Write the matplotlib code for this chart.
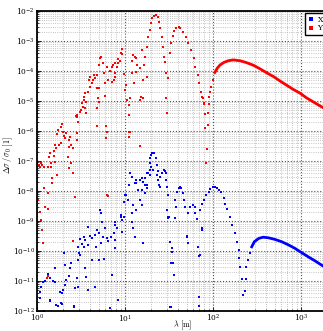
import numpy as np
import matplotlib
matplotlib.use("Agg")
import matplotlib.pyplot as plt
from matplotlib.ticker import LogLocator, NullFormatter

# ---- data (log10 of wavelength [m], log10 of relative change) ----
# Y series (red): scattered part
red_sc_loglam = [0.97,0.95,0.97,0.92,0.73,0.72,0.70,0.75,0.79,0.86,0.89,0.92,0.94,0.91,0.85,0.83,0.89,0.89,0.99,1.08,
                 1.09,1.11,1.13,1.08,1.14,1.22,1.19,0.60,0.59,0.64,0.66,0.65,0.62,0.68,0.76,0.77,0.81,0.85,0.88,0.60,
                 0.58,0.55,0.53,0.53,0.51,0.52,0.56,0.55,0.50,0.49,0.45,0.44,0.46,0.56,0.68,0.70,0.77,0.68,0.70,0.69,
                 1.01,1.00,1.02,1.06,1.04,1.04,1.18,1.20,1.17,0.47,0.28,0.27,0.24,0.23,0.29,0.31,0.33,0.32,0.38,0.36,
                 0.45,0.45,0.27,0.25,0.20,0.22,0.19,0.19,0.15,0.14,0.16,0.20,0.36,0.39,0.41,0.35,0.39,0.68,0.78,0.80,
                 0.78,1.06,1.17,0.00,0.02,0.04,0.06,0.08,0.03,0.16,0.13,0.17,0.17,0.23,0.36,0.41,0.08,0.13,0.01,0.43,
                 0.09,0.12,0.03,0.05,0.06,0.07,0.41,0.80,0.12,0.11,0.79,1.04,1.04,1.17,0.81,1.17,1.25,1.21,1.13,1.10]
red_sc_logval = [-3.28,-3.41,-3.43,-3.61,-3.52,-3.58,-3.80,-3.74,-3.86,-3.80,-3.72,-3.74,-3.66,-3.88,-3.88,-3.99,-4.08,-4.19,-4.10,-4.06,
                 -3.47,-3.52,-3.58,-3.66,-3.80,-3.80,-3.30,-4.19,-4.30,-4.30,-4.24,-4.13,-4.41,-4.13,-4.08,-4.41,-4.30,-4.36,-4.30,-4.52,
                 -4.69,-4.74,-4.86,-4.97,-5.08,-5.19,-5.02,-5.24,-5.30,-5.36,-5.47,-5.50,-5.54,-5.41,-4.58,-4.58,-4.83,-5.24,-5.02,-4.91,
                 -4.47,-4.63,-4.97,-4.91,-5.13,-5.47,-4.86,-4.91,-4.97,-5.69,-5.78,-5.86,-5.97,-6.10,-6.02,-6.17,-6.08,-6.24,-6.19,-6.30,
                 -6.08,-6.30,-6.41,-6.47,-6.47,-6.58,-6.66,-6.83,-6.72,-6.88,-7.06,-7.02,-6.52,-6.47,-6.58,-6.86,-7.06,-5.83,-5.83,-6.02,
                 -6.24,-6.02,-6.50,-7.08,-7.13,-7.06,-7.13,-7.19,-7.19,-7.21,-7.21,-7.58,-7.74,-7.47,-7.24,-7.41,-7.91,-8.08,-8.30,-8.21,
                 -8.52,-8.60,-8.69,-8.97,-9.30,-9.72,-9.66,-8.13,-10.83,-10.91,-6.02,-6.02,-6.21,-6.50,-8.17,-3.90,-4.20,-4.30,-4.03,-4.40]
# Y series (red): resonant / smooth part
red_cv_loglam = [1.23,1.25,1.26,1.28,1.30,1.31,1.33,1.35,1.37,1.39,1.40,1.42,1.43,1.44,1.46,1.47,1.49,1.47,1.48,
                 1.51,1.52,1.54,1.56,1.58,1.61,1.63,1.66,1.69,1.72,1.75,1.78,1.80,1.83,1.84,1.86,1.87,1.89,1.90,1.90,
                 1.91,1.91,1.92,1.93,1.94,1.94,1.95,1.96,1.97,1.98,2.00]
red_cv_logval = [-3.53,-3.19,-2.86,-2.63,-2.40,-2.24,-2.16,-2.13,-2.21,-2.36,-2.58,-2.86,-3.19,-3.52,-3.69,-4.08,-4.24,-4.91,-5.39,
                 -3.41,-3.06,-2.83,-2.66,-2.56,-2.52,-2.58,-2.69,-2.86,-3.06,-3.30,-3.58,-3.86,-4.13,-4.41,-4.69,-4.86,-4.90,-5.07,-5.10,
                 -5.43,-5.91,-7.06,-6.61,-5.80,-5.39,-5.10,-4.86,-4.69,-4.52,-4.30]
red_tail_loglam = [2.02,2.05,2.08,2.12,2.17,2.23,2.31,2.38,2.46,2.53,2.61,2.69,2.76,2.84,2.91,2.99,3.06,3.14,3.22,3.30]
red_tail_logval = [-4.05,-3.90,-3.80,-3.72,-3.66,-3.63,-3.66,-3.72,-3.81,-3.92,-4.06,-4.19,-4.33,-4.48,-4.61,-4.74,-4.89,-5.03,-5.17,-5.30]

# X series (blue): scattered part
blue_sc_loglam = [1.06,1.08,1.04,1.01,0.99,1.11,1.13,1.15,1.19,1.21,1.23,1.25,1.23,1.28,1.17,1.19,1.09,1.12,1.08,1.08,
                  1.09,1.11,1.20,0.95,0.97,0.97,0.89,0.89,0.91,0.87,0.89,0.89,0.84,0.81,0.79,0.77,0.75,0.73,0.74,0.73,
                  0.70,0.68,0.66,0.67,0.62,0.60,0.58,0.58,0.55,0.53,0.53,0.51,0.48,0.47,0.47,0.49,0.55,0.56,0.62,0.70,
                  0.76,0.85,0.83,0.92,0.66,0.58,0.47,0.45,0.43,0.42,0.39,0.38,0.36,0.32,0.33,0.32,0.30,0.28,0.26,0.27,
                  0.22,0.20,0.20,0.18,0.15,0.15,0.13,0.09,0.07,0.05,0.03,0.03,0.08,0.31,0.49,0.07,0.03,0.15,0.24,0.28,
                  0.42,0.83,0.92,1.17,1.13,1.23,1.25,1.19,1.00,1.03,0.96,0.72,0.99,1.26,1.28,1.25]
blue_sc_logval = [-7.41,-7.52,-7.80,-8.13,-8.36,-7.74,-7.63,-7.97,-7.58,-7.69,-7.80,-7.91,-8.08,-7.47,-8.30,-8.47,-8.47,-8.63,-8.74,-9.02,
                  -9.24,-9.54,-9.74,-8.86,-8.97,-9.36,-9.02,-9.13,-9.24,-9.41,-9.63,-9.91,-9.54,-9.66,-9.58,-9.24,-9.54,-9.74,-9.02,-8.72,
                  -9.41,-9.30,-9.47,-9.88,-9.58,-9.50,-9.80,-9.21,-9.63,-9.52,-9.86,-9.77,-10.06,-9.86,-10.30,-10.13,-10.58,-10.86,-10.30,-10.30,
                  -10.28,-10.80,-11.91,-11.63,-11.19,-11.30,-11.19,-10.91,-11.24,-11.83,-10.41,-10.58,-10.83,-10.47,-10.97,-11.13,-11.30,-11.41,-11.36,-11.74,
                  -11.81,-10.58,-11.02,-10.99,-11.66,-10.91,-10.77,-10.99,-11.02,-11.19,-11.36,-11.56,-11.99,-10.06,-9.61,-12.02,-11.58,-11.63,-11.83,-11.77,
                  -11.86,-11.91,-11.63,-7.63,-7.74,-7.58,-7.80,-7.97,-8.13,-8.30,-8.80,-8.63,-8.86,-7.41,-7.30,-7.41]
# X series (blue): resonant / smooth part
blue_cv_loglam = [1.28,1.28,1.30,1.31,1.33,1.35,1.36,1.37,1.38,1.39,1.30,1.32,1.36,
                  1.40,1.42,1.44,1.45,1.47,1.47,1.48,1.49,1.50,1.40,
                  1.57,1.59,1.61,1.63,1.64,1.66,1.67,1.68,1.58,
                  1.72,1.74,1.77,1.79,1.80,1.82,
                  1.85,1.88,1.90,1.92,1.95,1.97,2.00,2.02,2.04,2.07,2.09,2.12,2.14,2.16,2.19,2.22,2.25,2.27,2.29,2.30,2.31,2.33,2.34,2.36,
                  2.37,2.38,2.40,2.42,
                  1.51,1.84,1.51,1.53,1.55,1.56,1.49,1.70,1.72,1.83,1.85,1.87,1.52,1.84,1.48,1.49,1.53,1.52,1.57,1.70,1.84,1.87]
blue_cv_logval = [-7.06,-6.91,-6.80,-6.72,-6.74,-6.91,-7.13,-7.32,-7.63,-7.80,-7.19,-7.30,-7.47,
                  -7.52,-7.41,-7.30,-7.32,-7.41,-7.63,-7.86,-8.13,-8.86,-7.86,
                  -8.30,-8.02,-7.91,-7.88,-7.91,-8.08,-8.30,-8.52,-8.52,
                  -8.74,-8.52,-8.46,-8.52,-8.74,-8.95,
                  -8.63,-8.45,-8.30,-8.15,-8.02,-7.92,-7.88,-7.88,-7.91,-7.98,-8.05,-8.25,-8.45,-8.60,-8.86,-9.13,-9.41,-9.69,-9.97,-10.24,-10.52,-10.93,-11.47,-11.32,
                  -10.93,-10.52,-10.30,-10.08,
                  -11.86,-11.52,-9.69,-10.02,-10.41,-10.80,-8.86,-9.52,-9.74,-9.86,-10.13,-9.30,-11.86,-11.83,-8.63,-8.91,-9.91,-10.41,-8.91,-9.50,-10.17,-9.24]
blue_tail_loglam = [2.44,2.47,2.52,2.57,2.63,2.70,2.78,2.86,2.93,3.01,3.08,3.16,3.25,3.30]
blue_tail_logval = [-9.86,-9.69,-9.58,-9.54,-9.56,-9.61,-9.69,-9.80,-9.91,-10.06,-10.19,-10.33,-10.50,-10.58]

series_labels = ["X", "Y"]
xlim = (1, 2000)
ylim = (1e-12, 1e-2)

plt.rcParams["mathtext.fontset"] = "cm"
plt.rcParams["font.family"] = ["DejaVu Serif"]

W, H = 323, 331
fig = plt.figure(figsize=(W / 100, H / 100), dpi=100)
ax = fig.add_axes([37 / W, 20 / H, 290.5 / W, 300 / H])

p = lambda a: np.power(10.0, np.asarray(a))
ms = 1.9
blue = "#0000ff"
red = "#ff0000"

hb, = ax.loglog(p(blue_sc_loglam), p(blue_sc_logval), "s", color=blue, ms=ms, mew=0, label=series_labels[0])
ax.loglog(p(blue_cv_loglam), p(blue_cv_logval), "s", color=blue, ms=ms, mew=0)
ax.loglog(p(blue_tail_loglam), p(blue_tail_logval), "-", color=blue, lw=2.0)
hr, = ax.loglog(p(red_sc_loglam), p(red_sc_logval), "s", color=red, ms=ms, mew=0, label=series_labels[1])
ax.loglog(p(red_cv_loglam), p(red_cv_logval), "s", color=red, ms=ms, mew=0)
ax.loglog(p(red_tail_loglam), p(red_tail_logval), "-", color=red, lw=2.0)

ax.set_xlim(*xlim)
ax.set_ylim(*ylim)
ax.xaxis.set_major_locator(LogLocator(base=10, numticks=20))
ax.yaxis.set_major_locator(LogLocator(base=10, numticks=20))
ax.xaxis.set_minor_locator(LogLocator(base=10, subs=np.arange(2, 10), numticks=100))
ax.yaxis.set_minor_locator(LogLocator(base=10, subs=np.arange(2, 10), numticks=100))
ax.xaxis.set_minor_formatter(NullFormatter())
ax.yaxis.set_minor_formatter(NullFormatter())

ax.grid(True, which="major", linestyle=":", color="#555555", linewidth=0.8)
ax.grid(True, which="minor", linestyle=":", color="#b0b0b0", linewidth=0.6)
ax.tick_params(which="both", direction="in", labelsize=5.3)
ax.tick_params(axis="x", which="both", pad=1.5)
ax.tick_params(axis="y", which="both", pad=1.5)
ax.tick_params(which="major", length=3, width=0.6)
ax.tick_params(which="minor", length=1.5, width=0.5)
for s in ax.spines.values():
    s.set_linewidth(1.3)

ax.set_xlabel(r"$\lambda\ \mathrm{[m]}$", fontsize=5.8, va="center")
ax.xaxis.set_label_coords(0.5, -(325 - 311) / 300)
ax.set_ylabel(r"$\Delta\sigma\,/\,\sigma_0\ \mathrm{[1]}$", fontsize=5.8, va="center")
ax.yaxis.set_label_coords(-(37 - 8) / 290.5, 0.52)

leg = ax.legend(handles=[hb, hr], loc="upper right", fontsize=5.5, frameon=True, fancybox=False,
                handlelength=1.0, handletextpad=0.4, borderpad=0.3, labelspacing=0.1,
                borderaxespad=0.3, markerscale=1.2)
leg.get_frame().set_edgecolor("black")
leg.get_frame().set_linewidth(1.0)
leg.get_frame().set_alpha(1)

fig.savefig("out.png", dpi=100)
